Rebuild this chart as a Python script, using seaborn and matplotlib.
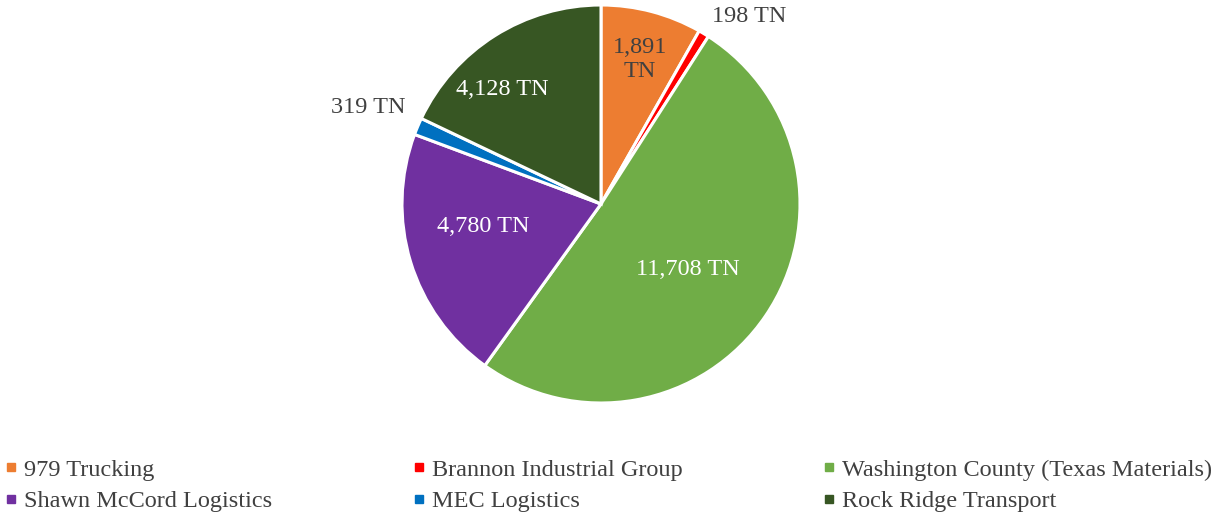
import matplotlib
matplotlib.use("Agg")
import matplotlib.pyplot as plt
from matplotlib.lines import Line2D
import seaborn as sns
import numpy as np

# data
carriers = [
	"979 Trucking",
	"Brannon Industrial Group",
	"Washington County (Texas Materials)",
	"Shawn McCord Logistics",
	"MEC Logistics",
	"Rock Ridge Transport",
]
tons = [1891, 198, 11708, 4780, 319, 4128]
value_labels = ["1,891\nTN", "198 TN", "11,708 TN", "4,780 TN", "319 TN", "4,128 TN"]

colors = ["#ED7D31", "#FF0000", "#70AD47", "#7030A0", "#0070C0", "#375623"]
label_colors = ["#404040", "#404040", "white", "white", "#404040", "white"]
label_radius = [0.76, 1.21, 0.54, 0.60, 1.27, 0.77]
label_turn = [0, -7, -2, -7, 0, 8]  # degrees, nudges like excel's best fit

sns.set_theme(style="white")
plt.rcParams["font.family"] = ["Liberation Serif", "DejaVu Serif"]

fig = plt.figure(figsize=(12.22, 5.14), dpi=100)
ax = fig.add_axes([0, 0, 1, 1])

wedges, _ = ax.pie(
	tons,
	colors=sns.color_palette(colors),
	startangle=90,
	counterclock=False,
	wedgeprops=dict(edgecolor="white", linewidth=2.2),
)

# axis limits so that the pie sits where it does in the reference (199 px radius)
ax.set_aspect("auto")
ax.set_xlim(-601 / 199, (1222 - 601) / 199)
ax.set_ylim(-310 / 199, 204 / 199)
ax.axis("off")

for w, txt, col, r, turn in zip(wedges, value_labels, label_colors, label_radius, label_turn):
	ang = np.deg2rad((w.theta1 + w.theta2) / 2 + turn)
	ax.text(r * np.cos(ang), r * np.sin(ang) - 0.01, txt, color=col,
			ha="center", va="center", fontsize=17.5, linespacing=1.2)

# excel fills legend row by row, matplotlib column by column
handles = [Line2D([], [], marker="s", linestyle="", markersize=6,
				  markerfacecolor=c, markeredgecolor=c) for c in colors]
order = [0, 3, 1, 4, 2, 5]
fig.legend(
	[handles[i] for i in order],
	[carriers[i] for i in order],
	ncol=3,
	loc="upper left",
	bbox_to_anchor=(0.003, 0.0, 0.989, 0.108),
	bbox_transform=fig.transFigure,
	mode="expand",
	frameon=False,
	fontsize=17.5,
	labelcolor="#404040",
	handlelength=0.6,
	handletextpad=0.25,
	labelspacing=0.4,
	borderpad=0,
	borderaxespad=0,
)

fig.savefig("out.png", dpi=100)
